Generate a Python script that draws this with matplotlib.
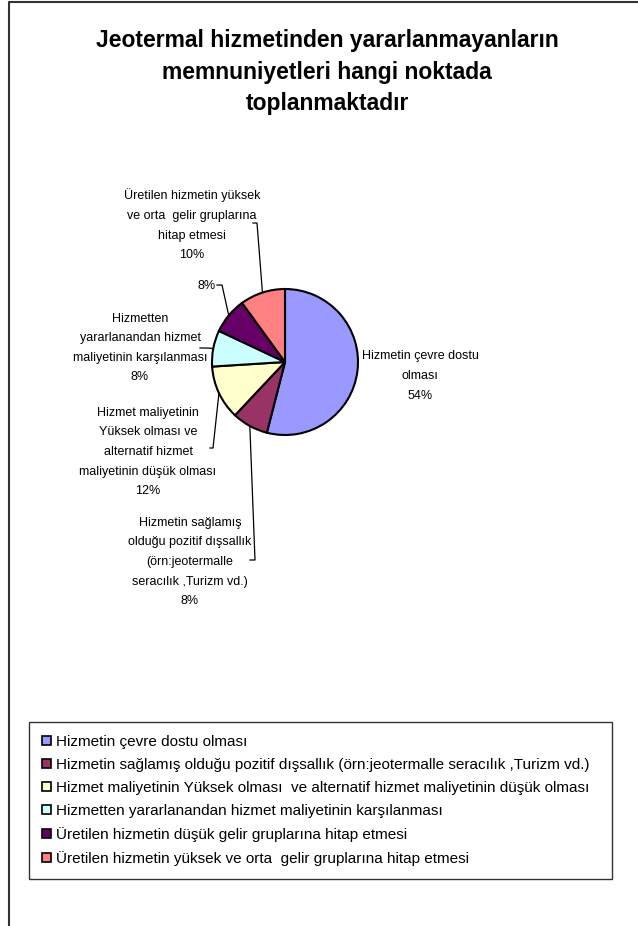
import matplotlib as mpl
import matplotlib.pyplot as plt
from matplotlib.lines import Line2D
import numpy as np

mpl.use('Agg')
plt.rcParams['font.family'] = ['Liberation Sans', 'DejaVu Sans']

baslik = "Jeotermal hizmetinden yararlanmayanların\nmemnuniyetleri hangi noktada\ntoplanmaktadır"

kategoriler = [
    "Hizmetin çevre dostu olması",
    "Hizmetin sağlamış olduğu pozitif dışsallık (örn:jeotermalle seracılık ,Turizm vd.)",
    "Hizmet maliyetinin Yüksek olması  ve alternatif hizmet maliyetinin düşük olması",
    "Hizmetten yararlanandan hizmet maliyetinin karşılanması",
    "Üretilen hizmetin düşük gelir gruplarına hitap etmesi",
    "Üretilen hizmetin yüksek ve orta  gelir gruplarına hitap etmesi",
]
etiketler = [
    "Hizmetin çevre dostu\nolması",
    "Hizmetin sağlamış\nolduğu pozitif dışsallık\n(örn:jeotermalle\nseracılık ,Turizm vd.)",
    "Hizmet maliyetinin\nYüksek olması ve\nalternatif hizmet\nmaliyetinin düşük olması",
    "Hizmetten\nyararlanandan hizmet\nmaliyetinin karşılanması",
    "",
    "Üretilen hizmetin yüksek\nve orta  gelir gruplarına\nhitap etmesi",
]
yuzdeler = [54, 8, 12, 8, 8, 10]
renkler = ['#9999FF', '#993366', '#FFFFCC', '#CCFFFF', '#660066', '#FF8080']

W, H = 638, 926
fig = plt.figure(figsize=(W / 100, H / 100), dpi=100)


def px(x, y):
    return x / W, 1 - y / H


# dis cerceve (sadece sol ve ust kenar gorunuyor)
fig.add_artist(Line2D([9 / W, 9 / W, 1], [0, 1 - 2 / H, 1 - 2 / H],
                      transform=fig.transFigure, color='#333333', lw=1.5))

tx, ty = px(327, 72)
fig.text(tx, ty, baslik, ha='center', va='center', fontsize=16.5,
         fontweight='bold', linespacing=1.45)

# pasta
cx, cy, r = 285, 362, 73
ax = fig.add_axes([(cx - r) / W, 1 - (cy + r) / H, 2 * r / W, 2 * r / H])
dilimler, _ = ax.pie(yuzdeler, colors=renkler, startangle=90, counterclock=False,
                     wedgeprops=dict(edgecolor='black', linewidth=1.5))
ax.set_xlim(-1, 1)
ax.set_ylim(-1, 1)
ax.axis('off')

# etiket konumlari (piksel) ve kilavuz cizgileri
etiket_yer = [(420, 376), (190, 562), (148, 452), (140, 348), (207, 286), (192, 225)]
kirilma = [None, [(255, 560), (250, 560)], [(213, 448), (210, 448)],
           [(205, 348), (200, 348)], [(222, 285), (217, 285)], [(257, 223), (253, 223)]]

bas = 0
for i, (v, e) in enumerate(zip(yuzdeler, etiketler)):
    orta = 90 - 360 * (bas + v / 2) / 100
    bas += v
    metin = f"{e}\n{v}%" if e else f"{v}%"
    x, y = px(*etiket_yer[i])
    fig.text(x, y, metin, ha='center', va='center', fontsize=9, linespacing=1.85)
    if kirilma[i]:
        a = np.deg2rad(orta)
        pts = [(np.cos(a), np.sin(a))]
        for kx, ky in kirilma[i]:
            pts.append(((kx - cx) / r, (cy - ky) / r))
        pts = np.array(pts)
        ax.plot(pts[:, 0], pts[:, 1], color='black', lw=0.9, clip_on=False)

lx, ly = px(29, 722)
leg = fig.legend(dilimler, kategoriler, loc='upper left',
                 bbox_to_anchor=(lx, ly - 0.2, (612 - 29) / W, 0.2), mode='expand',
                 fontsize=11, frameon=True, fancybox=False, edgecolor='black',
                 handlelength=0.55, handleheight=0.55, handletextpad=0.35,
                 labelspacing=0.59, borderpad=0.86, borderaxespad=0)
leg.get_frame().set_linewidth(1.0)
for h in leg.legend_handles:
    h.set_linewidth(1.2)

plt.savefig('out.png', dpi=100)
